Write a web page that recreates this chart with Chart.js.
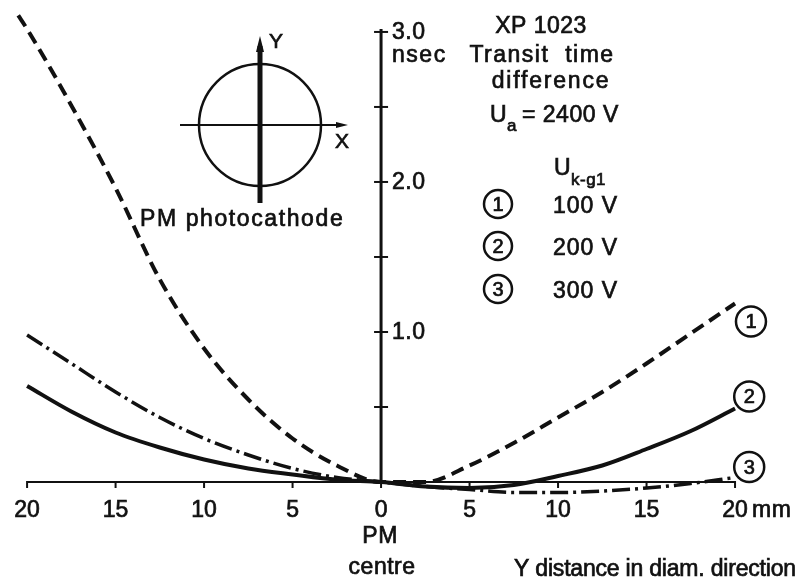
<!DOCTYPE html>
<html>
<head>
<meta charset="utf-8">
<script src="https://cdn.jsdelivr.net/npm/chart.js@4"></script>
<style>
  body { margin: 0; background: #fff; }
  #wrap { width: 803px; height: 584px; position: relative; }
</style>
</head>
<body>
<div id="wrap"><canvas id="chart"></canvas></div>
<script>
// Y distance from PM centre (mm), left side negative
const positions = [-20.5, -20, -17.5, -15, -12.5, -10, -7.5, -5, -2.5, 0, 2.5, 5, 7.5, 10, 12.5, 15, 17.5, 20];

// Transit time difference (nsec) for each Uk-g1
const curve100V = [3.11, 3.02, 2.51, 1.96, 1.35, 0.89, 0.55, 0.29, 0.11, 0, 0.0, 0.11, 0.26, 0.43, 0.60, 0.79, 0.99, 1.19];
const curve200V = [null, 0.64, 0.47, 0.33, 0.23, 0.15, 0.09, 0.05, 0.015, 0, -0.03, -0.04, -0.02, 0.04, 0.11, 0.22, 0.34, 0.49];
const curve300V = [null, 0.98, 0.79, 0.60, 0.43, 0.29, 0.18, 0.09, 0.03, 0, -0.03, -0.05, -0.07, -0.07, -0.06, -0.04, -0.01, 0.03];

const xTicks = [-20, -15, -10, -5, 0, 5, 10, 15, 20];
const yTicks = [0.5, 1.0, 1.5, 2.0, 2.5, 3.0];
const yTickLabels = ['', '1.0', '', '2.0', '', '3.0'];

const ink = '#111';
const font = '"Liberation Sans", Arial, sans-serif';

function toPoints(values) {
    return positions.map((x, i) => ({ x: x, y: values[i] })).filter(p => p.y !== null);
}

// Text with a little extra ink, like the printed original
function label(ctx, str, x, y, size, spacing, align) {
    ctx.font = size + 'px ' + font;
    ctx.letterSpacing = (spacing || 0) + 'px';
    ctx.textAlign = align || 'left';
    ctx.lineWidth = 0.7;
    ctx.fillText(str, x, y);
    ctx.strokeText(str, x, y);
    ctx.letterSpacing = '0px';
}

// Draw a number inside a circle
function circledNumber(ctx, cx, cy, r, text) {
    ctx.beginPath();
    ctx.arc(cx, cy, r, 0, Math.PI * 2);
    ctx.lineWidth = 2.5;
    ctx.stroke();
    ctx.textBaseline = 'middle';
    label(ctx, text, cx, cy + 1, 20, 0, 'center');
    ctx.textBaseline = 'alphabetic';
}

// Crossing axes at the PM centre
const centreAxes = {
    id: 'centreAxes',
    beforeDatasetsDraw(chart) {
        const ctx = chart.ctx;
        const xs = chart.scales.x;
        const ys = chart.scales.y;
        const x0 = xs.getPixelForValue(0);
        const y0 = ys.getPixelForValue(0);

        ctx.save();
        ctx.strokeStyle = ink;
        ctx.fillStyle = ink;

        // x axis
        ctx.lineWidth = 2;
        ctx.beginPath();
        ctx.moveTo(xs.getPixelForValue(-20), y0);
        ctx.lineTo(xs.getPixelForValue(20), y0);
        ctx.stroke();

        xTicks.forEach(v => {
            const px = xs.getPixelForValue(v);
            ctx.lineWidth = 2;
            ctx.beginPath();
            ctx.moveTo(px, y0 - 1);
            ctx.lineTo(px, y0 + 6);
            ctx.stroke();
            label(ctx, String(Math.abs(v)), px, y0 + 35, 23, 0, 'center');
        });
        label(ctx, 'mm', xs.getPixelForValue(20) + 17, y0 + 35, 23, 0.5);

        // y axis
        ctx.lineWidth = 3;
        ctx.beginPath();
        ctx.moveTo(x0, y0);
        ctx.lineTo(x0, ys.getPixelForValue(3.02));
        ctx.stroke();

        yTicks.forEach((v, i) => {
            const py = ys.getPixelForValue(v);
            ctx.lineWidth = 2;
            ctx.beginPath();
            ctx.moveTo(x0 - 7, py);
            ctx.lineTo(x0 + 7, py);
            ctx.stroke();
            if (yTickLabels[i]) label(ctx, yTickLabels[i], x0 + 11, py + 7, 23, 0.5);
        });
        ctx.restore();
    },
    afterDraw(chart) {
        const ctx = chart.ctx;
        const xs = chart.scales.x;
        const ys = chart.scales.y;
        const x0 = xs.getPixelForValue(0);
        const y0 = ys.getPixelForValue(0);

        ctx.save();
        ctx.fillStyle = ink;
        ctx.strokeStyle = ink;

        // axis captions
        label(ctx, 'nsec', x0 + 11, 62, 23, 1.5);
        label(ctx, 'PM', x0 - 1, y0 + 61, 23, 0.5, 'center');
        label(ctx, 'centre', x0 + 1, y0 + 92, 23, 0.5, 'center');
        label(ctx, 'Y distance in diam. direction', 514, y0 + 94, 23, -0.2);

        // title block
        label(ctx, 'XP 1023', 541, 33, 23, 0.5, 'center');
        label(ctx, 'Transit  time', 542, 62, 23, 1.5, 'center');
        label(ctx, 'difference', 551, 88, 23, 1.8, 'center');
        label(ctx, 'U', 490, 122, 23, 0);
        label(ctx, 'a', 507, 131, 17, 0);
        label(ctx, '= 2400 V', 522, 122, 23, 0.5);

        // legend
        label(ctx, 'U', 554, 175, 23, 0);
        label(ctx, 'k-g1', 571, 185, 17, 0.5);
        const legend = [['1', '100 V', 204], ['2', '200 V', 246], ['3', '300 V', 289]];
        legend.forEach(item => {
            circledNumber(ctx, 498, item[2], 14, item[0]);
            label(ctx, item[1], 553, item[2] + 9, 23, 1);
        });

        // curve end labels
        circledNumber(ctx, xs.getPixelForValue(20.9), ys.getPixelForValue(1.07), 15, '1');
        circledNumber(ctx, xs.getPixelForValue(20.8), ys.getPixelForValue(0.57), 15, '2');
        circledNumber(ctx, xs.getPixelForValue(20.8), ys.getPixelForValue(0.10), 15, '3');

        // photocathode sketch
        const cx = 260, cy = 125, r = 61;
        ctx.lineWidth = 2.5;
        ctx.beginPath();
        ctx.arc(cx, cy, r, 0, Math.PI * 2);
        ctx.stroke();
        ctx.lineWidth = 2;
        ctx.beginPath();
        ctx.moveTo(180, cy);
        ctx.lineTo(342, cy);
        ctx.stroke();
        ctx.beginPath();
        ctx.moveTo(348, cy);
        ctx.lineTo(336, cy - 3);
        ctx.lineTo(336, cy + 3);
        ctx.closePath();
        ctx.fill();
        ctx.lineWidth = 5;
        ctx.beginPath();
        ctx.moveTo(cx, 203);
        ctx.lineTo(cx, 46);
        ctx.stroke();
        ctx.beginPath();
        ctx.moveTo(cx, 36);
        ctx.lineTo(cx - 4, 52);
        ctx.lineTo(cx + 4, 52);
        ctx.closePath();
        ctx.fill();
        label(ctx, 'Y', 269, 48, 21, 0);
        label(ctx, 'X', 335, 148, 21, 0);
        label(ctx, 'PM photocathode', 140, 226, 23, 1.6);
        ctx.restore();
    }
};

const ctx = document.getElementById('chart').getContext('2d');
new Chart(ctx, {
    type: 'line',
    data: {
        datasets: [
            {
                label: '100 V',
                data: toPoints(curve100V),
                borderColor: ink,
                borderWidth: 4,
                borderDash: [13, 7],
                pointRadius: 0,
                cubicInterpolationMode: 'monotone',
                fill: false
            },
            {
                label: '200 V',
                data: toPoints(curve200V),
                borderColor: ink,
                borderWidth: 4,
                pointRadius: 0,
                cubicInterpolationMode: 'monotone',
                fill: false
            },
            {
                label: '300 V',
                data: toPoints(curve300V),
                borderColor: ink,
                borderWidth: 3.5,
                borderDash: [18, 5, 3, 5],
                pointRadius: 0,
                cubicInterpolationMode: 'monotone',
                fill: false
            }
        ]
    },
    options: {
        responsive: true,
        maintainAspectRatio: false,
        animation: false,
        layout: { padding: 0 },
        plugins: {
            legend: { display: false },
            tooltip: { enabled: false }
        },
        scales: {
            x: { type: 'linear', min: -21.53, max: 23.84, display: false },
            y: { type: 'linear', min: -0.68, max: 3.213, display: false }
        }
    },
    plugins: [centreAxes]
});
</script>
</body>
</html>
